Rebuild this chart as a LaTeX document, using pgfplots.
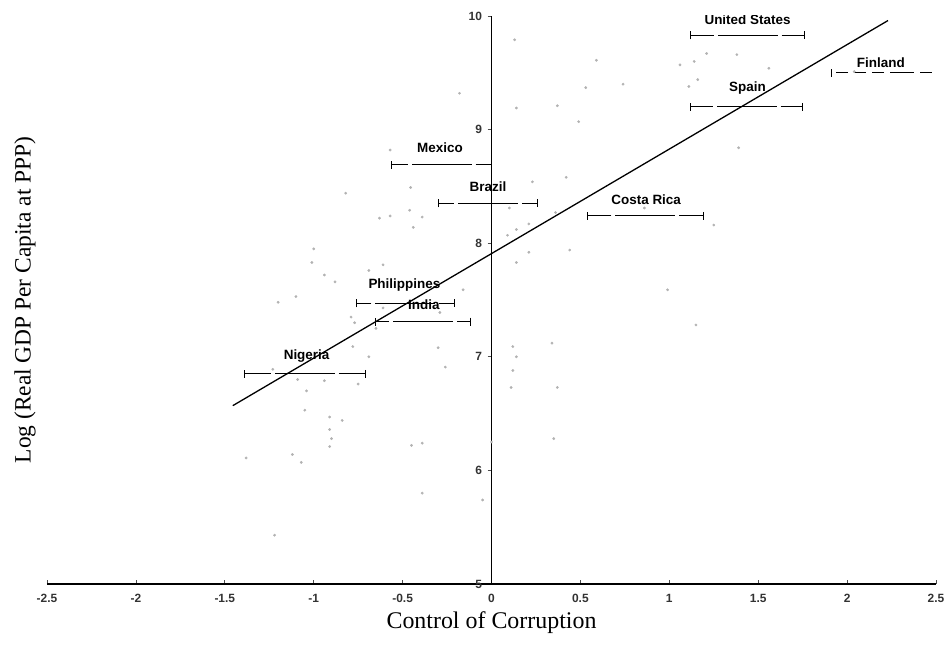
\documentclass[border=0pt]{standalone}
\usepackage{fontspec}
\setmainfont{Liberation Serif}
\newfontfamily\sansfont{Liberation Sans}
\usepackage{pgfplots}
\pgfplotsset{compat=1.18}
\begin{document}
\begin{tikzpicture}
\begin{axis}[
  scale only axis,
  width=889bp, height=568bp,
  xmin=-2.5, xmax=2.5, ymin=5, ymax=10,
  axis x line=bottom,
  axis y line=center,
  hide obscured y ticks=false,
  axis line style={-, line width=1.2bp, black},
  xtick={-2.5,-2,-1.5,-1,-0.5,0,0.5,1,1.5,2,2.5},
  ytick={5,6,7,8,9,10},
  xtick align=inside,
  ytick align=outside,
  major tick length=4bp,
  tick style={black!70, line width=0.8bp},
  /pgf/number format/assume math mode=true,
  /pgf/number format/fixed,
  ticklabel style={font=\sansfont\bfseries\fontsize{12}{13}\selectfont, text=black!80},
  xticklabel style={yshift=-7bp},
  yticklabel style={xshift=-2bp},
  every axis x label/.style={at={(axis description cs:0.5,0)}, anchor=center, yshift=-39bp},
  every axis y label/.style={at={(axis description cs:0,0.5)}, anchor=center, xshift=-22bp, rotate=90},
  xlabel={\fontsize{24}{26}\selectfont Control of Corruption},
  ylabel={\fontsize{23.5}{26}\selectfont Log (Real GDP Per Capita at PPP)},
  clip=true,
]
\coordinate (ll) at (rel axis cs:0,0);
\coordinate (ur) at (rel axis cs:1,1);

% scatter of countries
\addplot[only marks, mark=*, mark size=1.2bp, color=black!30] coordinates {
(-0.82,8.44) (-0.57,8.82) (-0.455,8.49) (-0.63,8.22) (-0.57,8.24) (-0.46,8.29)
(-0.39,8.23) (-0.44,8.14) (-1.00,7.95) (-1.01,7.83) (-0.94,7.72) (-0.88,7.66)
(-0.69,7.76) (-0.61,7.81) (-1.10,7.53) (-1.20,7.48) (-0.79,7.35) (-0.77,7.30)
(-0.61,7.43) (-0.65,7.25) (-0.29,7.39) (-0.16,7.59) (-0.78,7.09) (-0.69,7.00)
(-0.30,7.08) (-0.26,6.91) (-1.23,6.89) (-1.09,6.80) (-0.94,6.79) (-0.75,6.76)
(-1.04,6.70) (-1.05,6.53) (-0.91,6.47) (-0.84,6.44) (-0.91,6.36) (-0.90,6.28)
(-0.91,6.21) (-0.45,6.22) (-0.39,6.24) (-1.12,6.14) (-1.38,6.11) (-1.07,6.07)
(-0.39,5.80) (-1.22,5.43) (-0.05,5.74) (0.09,8.07) (0.14,7.83) (0.21,7.92)
(0.13,9.79) (0.59,9.61) (0.53,9.37) (0.74,9.40) (0.37,9.21) (0.14,9.19)
(0.49,9.07) (1.06,9.57) (1.14,9.60) (1.21,9.67) (1.38,9.66) (1.56,9.54)
(1.16,9.44) (1.11,9.38) (1.39,8.84) (0.42,8.58) (0.23,8.54) (0.10,8.31)
(0.36,8.27) (0.21,8.17) (0.14,8.12) (0.86,8.31) (1.25,8.16) (0.44,7.94)
(0.99,7.59) (0.34,7.12) (0.12,7.09) (0.14,7.00) (0.12,6.88) (0.11,6.73)
(0.37,6.73) (0.00,6.25) (1.15,7.28) (-0.18,9.32) (2.04,9.51) (0.35,6.28)
};

% regression line
\addplot[black, line width=1.3bp] coordinates {(-1.455,6.57) (2.23,9.96)};

% confidence intervals
\addplot[draw=none, mark=none,
  error bars/.cd, x dir=both, x explicit,
  error mark=-,
  error bar style={draw=black, line width=1bp, dash pattern=on 30bp off 4bp},
  error mark options={draw=black, mark size=4bp, line width=1bp, solid, rotate=90}]
  coordinates {
  (1.44,9.83) +- (0.32,0)
  (1.435,9.20) +- (0.315,0)
  (-0.28,8.69) +- (0.28,0)
  (-0.02,8.35) +- (0.28,0)
  (0.865,8.24) +- (0.325,0)
  (-0.485,7.47) +- (0.275,0)
  (-0.385,7.31) +- (0.265,0)
  (-1.05,6.85) +- (0.34,0)
};
\addplot[draw=none, mark=none,
  error bars/.cd, x dir=both, x explicit,
  error mark=-,
  error bar style={draw=black, line width=1bp, dash pattern=on 12bp off 6bp},
  error mark options={draw=black, mark size=4bp, line width=1bp, solid, rotate=90}]
  coordinates {(2.31,9.50) +- (0.40,0)};

\begin{scope}[font=\sansfont\bfseries\fontsize{13.5}{15}\selectfont]
\node at (axis cs:1.44,9.965) {United States};
\node at (axis cs:2.19,9.59) {Finland};
\node at (axis cs:1.44,9.37) {Spain};
\node at (axis cs:-0.29,8.84) {Mexico};
\node at (axis cs:-0.02,8.50) {Brazil};
\node at (axis cs:0.87,8.38) {Costa Rica};
\node at (axis cs:-0.49,7.63) {Philippines};
\node at (axis cs:-0.38,7.46) {India};
\node at (axis cs:-1.04,7.01) {Nigeria};
\end{scope}
\end{axis}
\pgfresetboundingbox
\useasboundingbox ([shift={(-47bp,-60bp)}]ll) rectangle ([shift={(11bp,16bp)}]ur);
\end{tikzpicture}
\end{document}
